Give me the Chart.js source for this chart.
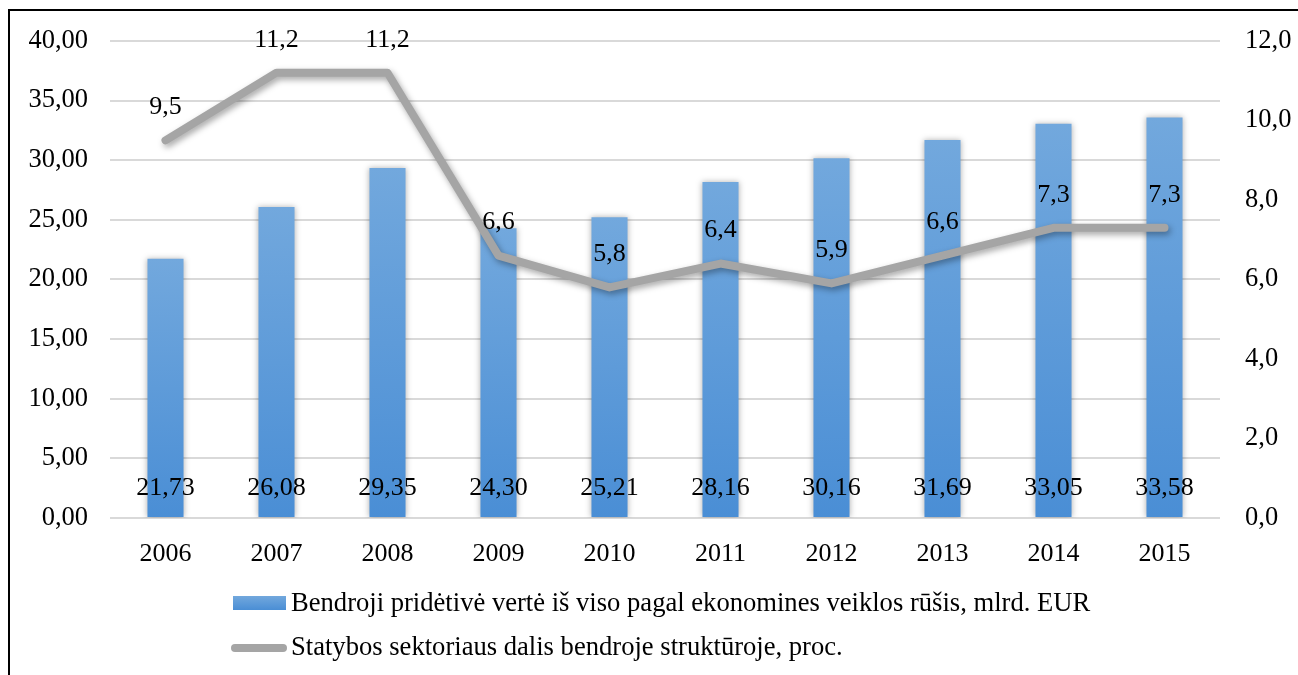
<!DOCTYPE html>
<html>
<head>
<meta charset="utf-8">
<script src="https://cdn.jsdelivr.net/npm/chart.js@4"></script>
<style>
    html, body { margin: 0; padding: 0; background: #fff; }
    #wrap { position: relative; width: 1298px; height: 675px; }
    #frame { position: absolute; left: 8px; top: 9px; right: 0; bottom: 0; border-top: 2px solid #000; border-left: 2px solid #000; pointer-events: none; }
</style>
</head>
<body>
<div id="wrap">
    <canvas id="chart" width="1298" height="675"></canvas>
    <div id="frame"></div>
</div>
<script>
const years = ['2006', '2007', '2008', '2009', '2010', '2011', '2012', '2013', '2014', '2015'];
const gvaValues = [21.73, 26.08, 29.35, 24.30, 25.21, 28.16, 30.16, 31.69, 33.05, 33.58];
const constructionShare = [9.5, 11.2, 11.2, 6.6, 5.8, 6.4, 5.9, 6.6, 7.3, 7.3];
const leftTicks = [0, 5, 10, 15, 20, 25, 30, 35, 40];
const rightTicks = [0, 2, 4, 6, 8, 10, 12];
const barLabel = 'Bendroji pridėtivė vertė iš viso pagal ekonomines veiklos rūšis, mlrd. EUR';
const lineLabel = 'Statybos sektoriaus dalis bendroje struktūroje, proc.';

const FONT = '"Liberation Serif", "Times New Roman", serif';
const fmt = (v, d) => v.toFixed(d).replace('.', ',');

function barGradient(ctx, top, bottom) {
    if (!isFinite(top) || !isFinite(bottom) || top === bottom) return '#5b9bd5';
    const g = ctx.createLinearGradient(0, top, 0, bottom);
    g.addColorStop(0, '#72a8dd');
    g.addColorStop(1, '#4a8ed5');
    return g;
}

// shadows + value labels + custom legend
const decor = {
    id: 'decor',
    beforeDatasetDraw(chart, args) {
        const c = chart.ctx;
        c.save();
        if (args.meta.type === 'line') {
            c.shadowColor = 'rgba(0,0,0,0.35)';
            c.shadowBlur = 6;
            c.shadowOffsetX = 2;
            c.shadowOffsetY = 3;
        } else {
            c.shadowColor = 'rgba(0,0,0,0.3)';
            c.shadowBlur = 6;
            c.shadowOffsetX = 0;
            c.shadowOffsetY = 0;
        }
    },
    afterDatasetDraw(chart) {
        chart.ctx.restore();
    },
    afterDatasetsDraw(chart) {
        const c = chart.ctx;
        c.save();
        c.fillStyle = '#000';
        c.font = '26px ' + FONT;
        c.textAlign = 'center';
        c.textBaseline = 'middle';
        chart.getDatasetMeta(1).data.forEach((el, i) => {
            c.fillText(fmt(gvaValues[i], 2), el.x, el.base - 29);
        });
        chart.getDatasetMeta(0).data.forEach((el, i) => {
            c.fillText(fmt(constructionShare[i], 1), el.x, el.y - 33);
        });

        // legend
        c.textAlign = 'left';
        c.font = '26.6px ' + FONT;
        c.fillStyle = barGradient(c, 596, 610);
        c.fillRect(233, 596, 53, 14);
        c.fillStyle = '#000';
        c.fillText(barLabel, 291, 604);

        c.strokeStyle = '#a5a5a5';
        c.lineWidth = 8;
        c.lineCap = 'round';
        c.beginPath();
        c.moveTo(235, 648);
        c.lineTo(283, 648);
        c.stroke();
        c.fillText(lineLabel, 291, 648);
        c.restore();
    }
};

const ctx = document.getElementById('chart').getContext('2d');
const chart = new Chart(ctx, {
    type: 'bar',
    data: {
        labels: years,
        datasets: [
            {
                type: 'line',
                label: lineLabel,
                data: constructionShare,
                yAxisID: 'y1',
                borderColor: '#a5a5a5',
                borderWidth: 8,
                borderCapStyle: 'round',
                borderJoinStyle: 'round',
                pointRadius: 0,
                tension: 0,
                fill: false,
                order: 0
            },
            {
                type: 'bar',
                label: barLabel,
                data: gvaValues,
                yAxisID: 'y',
                backgroundColor: (context) => {
                    const ch = context.chart;
                    const ys = ch.scales.y;
                    if (!ys || typeof context.raw !== 'number') return '#5b9bd5';
                    return barGradient(ch.ctx, ys.getPixelForValue(context.raw), ys.getPixelForValue(0));
                },
                categoryPercentage: 1,
                barPercentage: 0.325,
                order: 1
            }
        ]
    },
    options: {
        responsive: false,
        animation: false,
        layout: { padding: { top: 40, left: 0, right: 0, bottom: 0 } },
        plugins: {
            legend: { display: false },
            tooltip: { enabled: false }
        },
        scales: {
            x: {
                grid: { display: false },
                border: { display: false },
                ticks: { color: '#000', font: { family: FONT, size: 26 }, padding: 13 },
                afterFit: (s) => { s.height = 157; }
            },
            y: {
                position: 'left',
                min: 0,
                max: 40,
                afterBuildTicks: (s) => { s.ticks = leftTicks.map(v => ({ value: v })); },
                grid: { color: '#d9d9d9', lineWidth: 2, drawTicks: false },
                border: { display: false },
                ticks: { color: '#000', font: { family: FONT, size: 26.5 }, padding: 22, callback: (v) => fmt(v, 2) },
                afterFit: (s) => { s.width = 110; }
            },
            y1: {
                position: 'right',
                min: 0,
                max: 12,
                afterBuildTicks: (s) => { s.ticks = rightTicks.map(v => ({ value: v })); },
                grid: { display: false, drawTicks: false },
                border: { display: false },
                ticks: { color: '#000', font: { family: FONT, size: 26.5 }, padding: 25, callback: (v) => fmt(v, 1) },
                afterFit: (s) => { s.width = 78; }
            }
        }
    },
    plugins: [decor]
});
</script>
</body>
</html>
